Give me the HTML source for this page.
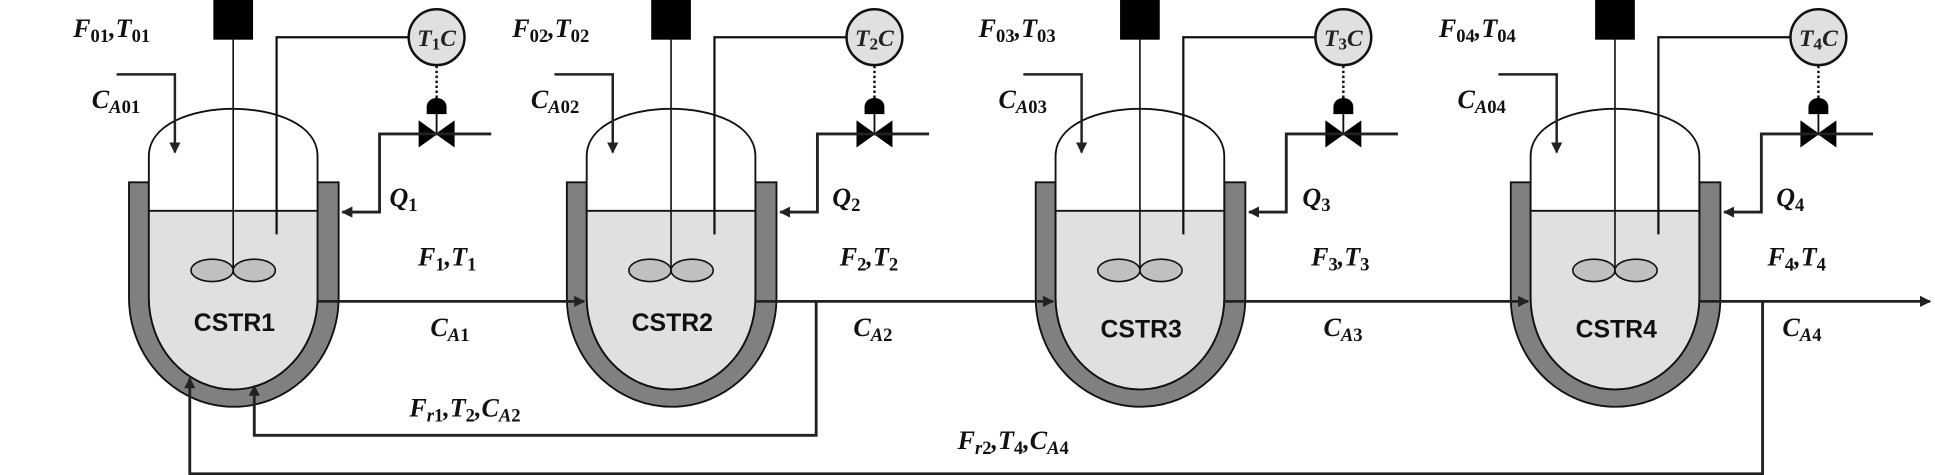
<!DOCTYPE html>
<html><head><meta charset="utf-8"><style>
html,body{margin:0;padding:0;background:#fff;}
svg{display:block;}
.m{font-family:"Liberation Serif",serif;font-weight:bold;font-style:italic;font-size:21px;fill:#111;}
.s{font-style:normal;font-size:15px;}
.si{font-size:15px;}
.lbl{font-family:"Liberation Sans",sans-serif;font-weight:bold;font-size:20px;fill:#111;}
.tc{font-family:"Liberation Serif",serif;font-style:italic;font-weight:bold;font-size:19px;fill:#222;}
</style></head><body>
<svg width="1935" height="475" viewBox="0 0 1560 383" preserveAspectRatio="none" xmlns="http://www.w3.org/2000/svg">
<defs>
<marker id="ar" viewBox="0 0 10 10" refX="9" refY="5" markerWidth="9" markerHeight="9" markerUnits="userSpaceOnUse" orient="auto"><path d="M0,0 L10,5 L0,10 z" fill="#222"/></marker>
<g id="R">
  <path d="M104,147 H120 V240 A68,74 0 0 0 256,240 V147 H273 V240 A84.5,88 0 0 1 104,240 Z" fill="#808080" stroke="#111" stroke-width="1.5"/>
  <path d="M120,170 V126 C120,75 256,75 256,126 V170" fill="#fff" stroke="#111" stroke-width="1.5"/>
  <path d="M120,170 H256 V240 A68,74 0 0 1 120,240 Z" fill="#e0e0e0" stroke="#111" stroke-width="1.5"/>
  <rect x="172" y="0" width="32" height="32" fill="#000"/>
  <line x1="188" y1="32" x2="188" y2="218" stroke="#111" stroke-width="1.3"/>
  <ellipse cx="171" cy="218" rx="17" ry="9" fill="#c0c0c0" stroke="#111" stroke-width="1.3"/>
  <ellipse cx="205" cy="218" rx="17" ry="9" fill="#c0c0c0" stroke="#111" stroke-width="1.3"/>
  <polyline points="223,189 223,30 329,30" fill="none" stroke="#111" stroke-width="1.8"/>
  <circle cx="352" cy="30" r="22.5" fill="#e0e0e0" stroke="#111" stroke-width="2"/>
  <line x1="352" y1="53" x2="352" y2="80" stroke="#111" stroke-width="2" stroke-dasharray="2,2"/>
  <path d="M344,92 V86 A8,7 0 0 1 360,86 V92 Z" fill="#000"/>
  <line x1="352" y1="92" x2="352" y2="108" stroke="#111" stroke-width="1.5"/>
  <path d="M338,98 L366,118 V98 L338,118 Z" fill="#000" stroke="#000" stroke-width="1"/>
  <polyline points="396,108 306,108 306,171 276,171" fill="none" stroke="#222" stroke-width="2.3" marker-end="url(#ar)"/>
  <polyline points="94,60 141,60 141,123" fill="none" stroke="#222" stroke-width="2" marker-end="url(#ar)"/>
</g>
</defs>
<use href="#R"/>
<use href="#R" transform="translate(353,0)"/>
<use href="#R" transform="translate(731,0)"/>
<use href="#R" transform="translate(1114,0)"/>

<g stroke="#222" stroke-width="2.3" fill="none">
<line x1="256" y1="243" x2="471" y2="243" marker-end="url(#ar)"/>
<line x1="609" y1="243" x2="849" y2="243" marker-end="url(#ar)"/>
<line x1="987" y1="243" x2="1232" y2="243" marker-end="url(#ar)"/>
<line x1="1370" y1="243" x2="1556" y2="243" marker-end="url(#ar)"/>
<polyline points="658,243 658,351 205,351 205,311" marker-end="url(#ar)"/>
<polyline points="1421,243 1421,382 153,382 153,305" marker-end="url(#ar)"/>
</g>

<text class="lbl" x="189" y="267" text-anchor="middle">CSTR1</text>
<text class="lbl" x="542" y="267" text-anchor="middle">CSTR2</text>
<text class="lbl" x="920" y="272" text-anchor="middle">CSTR3</text>
<text class="lbl" x="1303" y="272" text-anchor="middle">CSTR4</text>

<text class="m" x="59" y="30">F<tspan class="s" dy="4">01</tspan><tspan dy="-4">,T</tspan><tspan class="s" dy="4">01</tspan></text>
<text class="m" x="74" y="87">C<tspan class="si" dy="4">A</tspan><tspan class="s">01</tspan></text>
<text class="m" x="413" y="30">F<tspan class="s" dy="4">02</tspan><tspan dy="-4">,T</tspan><tspan class="s" dy="4">02</tspan></text>
<text class="m" x="428" y="87">C<tspan class="si" dy="4">A</tspan><tspan class="s">02</tspan></text>
<text class="m" x="789" y="30">F<tspan class="s" dy="4">03</tspan><tspan dy="-4">,T</tspan><tspan class="s" dy="4">03</tspan></text>
<text class="m" x="805" y="87">C<tspan class="si" dy="4">A</tspan><tspan class="s">03</tspan></text>
<text class="m" x="1160" y="30">F<tspan class="s" dy="4">04</tspan><tspan dy="-4">,T</tspan><tspan class="s" dy="4">04</tspan></text>
<text class="m" x="1175" y="87">C<tspan class="si" dy="4">A</tspan><tspan class="s">04</tspan></text>

<text class="tc" x="352" y="37" text-anchor="middle">T<tspan style="font-style:normal;font-size:14px" dy="3">1</tspan><tspan dy="-3">C</tspan></text>
<text class="tc" x="705" y="37" text-anchor="middle">T<tspan style="font-style:normal;font-size:14px" dy="3">2</tspan><tspan dy="-3">C</tspan></text>
<text class="tc" x="1083" y="37" text-anchor="middle">T<tspan style="font-style:normal;font-size:14px" dy="3">3</tspan><tspan dy="-3">C</tspan></text>
<text class="tc" x="1466" y="37" text-anchor="middle">T<tspan style="font-style:normal;font-size:14px" dy="3">4</tspan><tspan dy="-3">C</tspan></text>

<text class="m" x="314" y="166">Q<tspan class="s" dy="4">1</tspan></text>
<text class="m" x="671" y="166">Q<tspan class="s" dy="4">2</tspan></text>
<text class="m" x="1050" y="166">Q<tspan class="s" dy="4">3</tspan></text>
<text class="m" x="1432" y="166">Q<tspan class="s" dy="4">4</tspan></text>

<text class="m" x="337" y="214">F<tspan class="s" dy="4">1</tspan><tspan dy="-4">,T</tspan><tspan class="s" dy="4">1</tspan></text>
<text class="m" x="347" y="271">C<tspan class="si" dy="4">A</tspan><tspan class="s">1</tspan></text>
<text class="m" x="677" y="214">F<tspan class="s" dy="4">2</tspan><tspan dy="-4">,T</tspan><tspan class="s" dy="4">2</tspan></text>
<text class="m" x="688" y="271">C<tspan class="si" dy="4">A</tspan><tspan class="s">2</tspan></text>
<text class="m" x="1057" y="214">F<tspan class="s" dy="4">3</tspan><tspan dy="-4">,T</tspan><tspan class="s" dy="4">3</tspan></text>
<text class="m" x="1067" y="271">C<tspan class="si" dy="4">A</tspan><tspan class="s">3</tspan></text>
<text class="m" x="1425" y="214">F<tspan class="s" dy="4">4</tspan><tspan dy="-4">,T</tspan><tspan class="s" dy="4">4</tspan></text>
<text class="m" x="1437" y="271">C<tspan class="si" dy="4">A</tspan><tspan class="s">4</tspan></text>

<text class="m" x="330" y="336">F<tspan class="si" dy="4">r</tspan><tspan class="s">1</tspan><tspan dy="-4">,T</tspan><tspan class="s" dy="4">2</tspan><tspan dy="-4">,C</tspan><tspan class="si" dy="4">A</tspan><tspan class="s">2</tspan></text>
<text class="m" x="772" y="362">F<tspan class="si" dy="4">r</tspan><tspan class="s">2</tspan><tspan dy="-4">,T</tspan><tspan class="s" dy="4">4</tspan><tspan dy="-4">,C</tspan><tspan class="si" dy="4">A</tspan><tspan class="s">4</tspan></text>
</svg>
</body></html>
